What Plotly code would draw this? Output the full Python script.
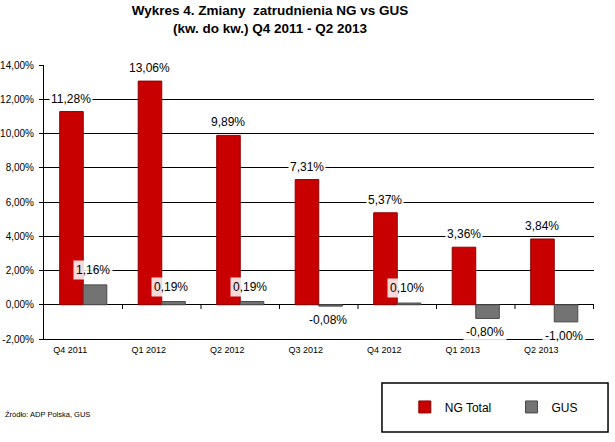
import plotly.graph_objects as go

quarters = ["Q4 2011", "Q1 2012", "Q2 2012", "Q3 2012", "Q4 2012", "Q1 2013", "Q2 2013"]
ng_total = [11.28, 13.06, 9.89, 7.31, 5.37, 3.36, 3.84]
gus = [1.16, 0.19, 0.19, -0.08, 0.10, -0.80, -1.00]
y_ticks = [-2, 0, 2, 4, 6, 8, 10, 12, 14]


def pl(v):
    return f"{v:.2f}".replace(".", ",") + "%"


FONT = "Liberation Sans, Arial, sans-serif"

fig = go.Figure()
fig.add_bar(x=quarters, y=ng_total, name="NG Total", legend="legend",
            marker=dict(color="#C80000", line=dict(color="#8E0000", width=1)))
fig.add_bar(x=quarters, y=gus, name="GUS", legend="legend2",
            marker=dict(color="#737373", line=dict(color="#4A4A4A", width=1)))

annotations = []
for i, v in enumerate(ng_total):
    annotations.append(dict(x=i - 0.15, y=v, xref="x", yref="y", text=pl(v),
                            showarrow=False, yanchor="bottom", yshift=4,
                            bgcolor="white", borderpad=1,
                            font=dict(family=FONT, size=12, color="black")))
for i, v in enumerate(gus):
    annotations.append(dict(x=i + 0.12, y=v, xref="x", yref="y", text=pl(v),
                            showarrow=False,
                            yanchor="bottom" if v >= 0 else "top",
                            yshift=5 if v >= 0 else -4,
                            bgcolor="rgba(255,255,255,0.85)", borderpad=2,
                            font=dict(family=FONT, size=12, color="black")))

# source note
annotations.append(dict(x=-0.0745, y=-0.277, xref="paper", yref="paper",
                        text="Źródło: ADP Polska, GUS", showarrow=False,
                        xanchor="left", yanchor="middle",
                        font=dict(family=FONT, size=7.5, color="black")))

shapes = []
for i in range(len(quarters)):
    shapes.append(dict(type="line", xref="x", yref="y", x0=i + 0.5, x1=i + 0.5,
                       y0=0, y1=-0.25, line=dict(color="black", width=1)))
# legend border
shapes.append(dict(type="rect", xref="paper", yref="paper",
                   x0=0.6145, x1=1.0255, y0=-0.3394, y1=-0.1606,
                   line=dict(color="black", width=1.5), fillcolor="rgba(0,0,0,0)"))

leg_common = dict(orientation="h", y=-0.248, xanchor="left", yanchor="middle",
                  xref="paper", yref="paper", bgcolor="rgba(0,0,0,0)",
                  itemwidth=30, font=dict(family=FONT, size=12, color="black"))

fig.update_layout(
    width=615, height=442,
    margin=dict(l=44, r=21, t=65, b=103, autoexpand=False),
    paper_bgcolor="white", plot_bgcolor="white",
    barmode="group", bargap=0.4, bargroupgap=0,
    title=dict(text="<b>Wykres 4. Zmiany  zatrudnienia NG vs GUS</b><br><b>(kw. do kw.) Q4 2011 - Q2 2013</b>",
               x=0.439, xanchor="center", xref="container",
               y=0.965, yanchor="top", yref="container",
               font=dict(family=FONT, size=13.5, color="black")),
    showlegend=True,
    legend=dict(x=0.656, **leg_common),
    legend2=dict(x=0.85, **leg_common),
    annotations=annotations,
    shapes=shapes,
    font=dict(family=FONT, color="black"),
)
fig.update_xaxes(showgrid=False, showline=True, linecolor="black", linewidth=1,
                 mirror=False, ticks="", ticklabelshift=-13, ticklabelstandoff=2,
                 tickfont=dict(family=FONT, size=9, color="black"))
fig.update_yaxes(range=[-2, 14], tickvals=y_ticks, ticktext=[pl(v) for v in y_ticks],
                 showgrid=True, gridcolor="black", gridwidth=1,
                 zeroline=True, zerolinecolor="black", zerolinewidth=1,
                 showline=True, linecolor="black", linewidth=1,
                 ticks="outside", ticklen=4, tickcolor="black", ticklabelstandoff=3,
                 tickfont=dict(family=FONT, size=10, color="black"))

fig.write_html("out.html")
